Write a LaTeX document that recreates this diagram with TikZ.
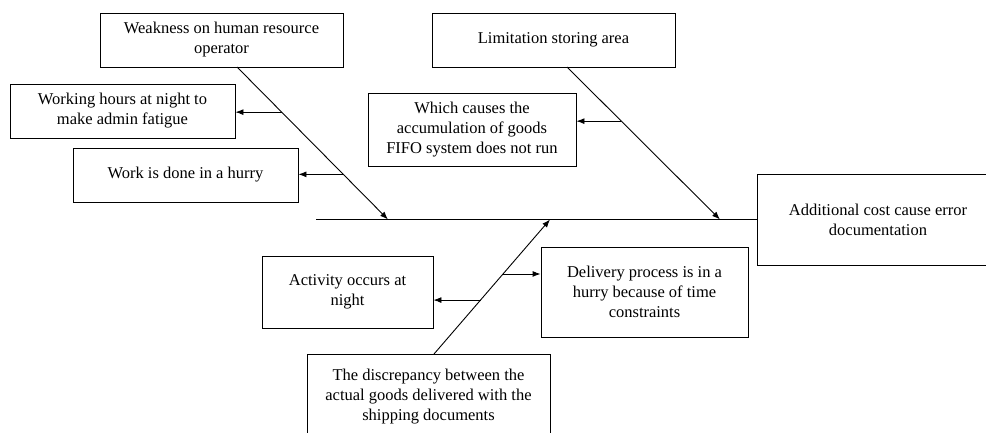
\documentclass[tikz,border=0pt]{standalone}
\usepackage{fontspec}
\setmainfont{Liberation Serif}
\usetikzlibrary{arrows.meta,calc}
\begin{document}
\begin{tikzpicture}[x=1pt,y=-1pt,
  box/.style={draw,line width=0.9pt,rectangle,inner sep=0pt,align=center,
    font=\fontsize{16.5}{20}\selectfont},
  ln/.style={line width=0.9pt},
  arr/.style={line width=0.9pt,-{Latex[length=8pt,width=6pt]}}]
\clip (0,0) rectangle (986,433);
\fill[white] (0,0) rectangle (986,433);
% boxes
\node[box,minimum width=243pt,minimum height=54pt] (n1) at (221.5,40) {Weakness on human resource\\operator};
\node[box,minimum width=225pt,minimum height=54pt] (n2) at (122.5,111) {Working hours at night to\\make admin fatigue};
\node[box,minimum width=225pt,minimum height=54pt] (n3) at (185.5,175) {Work is done in a hurry};
\node[box,minimum width=243pt,minimum height=54pt] (n4) at (553.5,40) {Limitation storing area};
\node[box,minimum width=208pt,minimum height=73pt] (n5) at (472,129.5) {Which causes the\\accumulation of goods\\FIFO system does not run};
\node[box,minimum width=242pt,minimum height=91pt] (n6) at (878,219.5) {Additional cost cause error\\documentation};
\node[box,minimum width=171pt,minimum height=72pt] (n7) at (347.5,292) {Activity occurs at\\night};
\node[box,minimum width=207pt,minimum height=90pt] (n8) at (644.5,292) {Delivery process is in a\\hurry because of time\\constraints};
\node[box,minimum width=243pt,minimum height=86pt] (n9) at (428.5,397) {The discrepancy between the\\actual goods delivered with the\\shipping documents};
% spine
\coordinate (s0) at (316,219.5);
\draw[ln] (s0) -- (n6.west);
% diagonal bones
\coordinate (d1) at (237,67);
\coordinate (t1) at (388,219.5);
\coordinate (d2) at (567,67);
\coordinate (t2) at (720,219.5);
\coordinate (d3) at (434,354);
\coordinate (t3) at (550,219.5);
\draw[arr] (d1) -- (t1);
\draw[arr] (d2) -- (t2);
\draw[arr] (d3) -- (t3);
% branches
\coordinate (b1) at ($(d1)!0.296!(t1)$);
\coordinate (b2) at ($(d1)!0.704!(t1)$);
\coordinate (b3) at ($(d2)!0.355!(t2)$);
\coordinate (b4) at ($(d3)!0.401!(t3)$);
\coordinate (b5) at ($(d3)!0.595!(t3)$);
\draw[arr] (b1) -- (b1 -| n2.east);
\draw[arr] (b2) -- (b2 -| n3.east);
\draw[arr] (b3) -- (b3 -| n5.east);
\draw[arr] (b4) -- (b4 -| n7.east);
\draw[arr] (b5) -- (b5 -| n8.west);
\end{tikzpicture}
\end{document}
